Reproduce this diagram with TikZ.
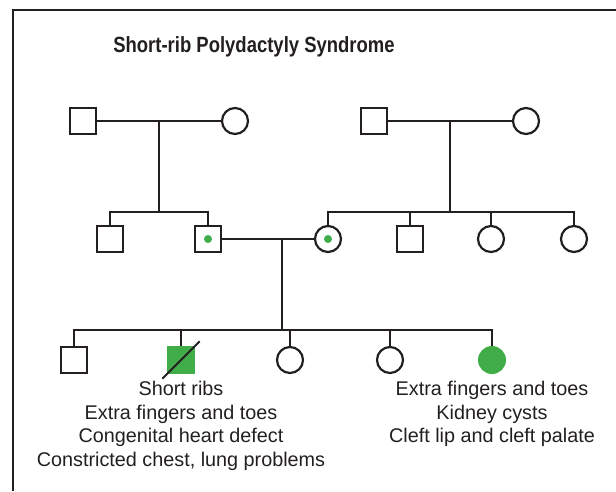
\documentclass[tikz,border=0pt]{standalone}
\usepackage{fontspec}
\setmainfont{Liberation Sans}
\newfontfamily\titlefont[FakeStretch=0.84]{Liberation Sans Bold}
\usepackage{xcolor}
\usetikzlibrary{positioning}

\definecolor{ink}{RGB}{35,31,32}
\definecolor{srpgreen}{RGB}{64,173,73}

\begin{document}
\begin{tikzpicture}[x=1pt,y=-1pt,
  every node/.style={inner sep=0pt, text=ink},
  male/.style={draw=ink, line width=2.2pt, rectangle, minimum size=26pt},
  female/.style={draw=ink, line width=2.2pt, circle, minimum size=26pt},
  affmale/.style={fill=srpgreen, rectangle, minimum size=28pt},
  afffemale/.style={fill=srpgreen, circle, minimum size=28pt},
  link/.style={draw=ink, line width=2.2pt},
  notes/.style={align=center, font=\fontsize{19.8}{23.5}\selectfont}]
\useasboundingbox (0,0) rectangle (616,491);
\draw[ink, line width=2pt] (13,491) -- (13,10) -- (616,10);
\node[font=\titlefont\fontsize{22}{26}\selectfont] (title) at (254,47) {Short-rib Polydactyly Syndrome};
% generation I
\node[male] (i1) at (83,121) {};
\node[female] (i2) at (235,121) {};
\node[male] (i3) at (374,121) {};
\node[female] (i4) at (526,121) {};
% generation II
\node[male] (ii1) at (110,239) {};
\node[male] (ii2) at (208,239) {};
\node[female] (ii3) at (328,239) {};
\node[male] (ii4) at (410,239) {};
\node[female] (ii5) at (491,239) {};
\node[female] (ii6) at (574,239) {};
% generation III
\node[male] (iii1) at (74,360) {};
\node[affmale] (iii2) at (181,360) {};
\node[female] (iii3) at (290,360) {};
\node[female] (iii4) at (390,360) {};
\node[afffemale] (iii5) at (492,360) {};
% marriages and sibships
\coordinate (m1) at (159,121);
\coordinate (s1) at (159,212);
\coordinate (m2) at (450,121);
\coordinate (s2) at (450,212);
\coordinate (m3) at (282,239);
\coordinate (s3) at (282,330);
\draw[link] (i1) -- (i2);
\draw[link] (i3) -- (i4);
\draw[link] (ii2) -- (ii3);
\draw[link] (m1) -- (s1);
\draw[link] (m2) -- (s2);
\draw[link] (m3) -- (s3);
\draw[link] (ii1.north) -- (ii1.north |- s1) -- (ii2.north |- s1) -- (ii2.north);
\draw[link] (ii3.north) -- (ii3.north |- s2) -- (ii6.north |- s2) -- (ii6.north);
\draw[link] (ii4.north) -- (ii4.north |- s2);
\draw[link] (ii5.north) -- (ii5.north |- s2);
\draw[link] (iii1.north) -- (iii1.north |- s3) -- (iii5.north |- s3) -- (iii5.north);
\draw[link] (iii2.north) -- (iii2.north |- s3);
\draw[link] (iii3.north) -- (iii3.north |- s3);
\draw[link] (iii4.north) -- (iii4.north |- s3);
% carriers and deceased
\fill[srpgreen] (ii2) circle (4pt);
\fill[srpgreen] (ii3) circle (4pt);
\draw[ink, line width=1.8pt] ([shift={(-4.5,4.5)}]iii2.south west) -- ([shift={(4.5,-4.5)}]iii2.north east);
% findings
\node[notes, anchor=north] (n1) at (181,381) {Short ribs\\Extra fingers and toes\\Congenital heart defect\\Constricted chest, lung problems};
\node[notes, anchor=north] (n2) at (492,381) {Extra fingers and toes\\Kidney cysts\\Cleft lip and cleft palate};
\end{tikzpicture}
\end{document}
